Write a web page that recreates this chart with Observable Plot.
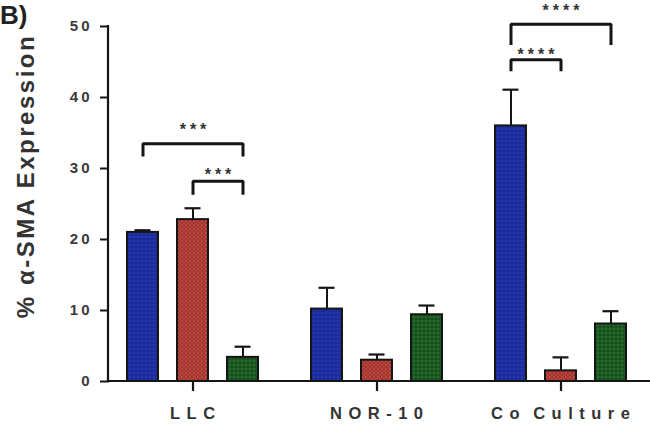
<!DOCTYPE html>
<html>
<head>
<meta charset="utf-8">
<script src="https://cdn.jsdelivr.net/npm/d3@7"></script>
<script src="https://cdn.jsdelivr.net/npm/@observablehq/plot@0.6"></script>
<style>
  html, body { margin: 0; padding: 0; background: #fff; }
  #chart svg { display: block; }
</style>
</head>
<body>
<svg width="0" height="0" style="position:absolute">
  <defs>
    <pattern id="pA" width="4" height="4" patternUnits="userSpaceOnUse">
      <rect width="4" height="4" fill="#1e2fa2"/>
      <rect width="2" height="2" fill="#2636ad"/>
      <rect x="2" y="2" width="2" height="2" fill="#1a2892"/>
    </pattern>
    <pattern id="pB" width="4" height="4" patternUnits="userSpaceOnUse">
      <rect width="4" height="4" fill="#a3322d"/>
      <rect width="2" height="2" fill="#b94a44"/>
      <rect x="2" y="2" width="2" height="2" fill="#b5443e"/>
    </pattern>
    <pattern id="pC" width="4" height="4" patternUnits="userSpaceOnUse">
      <rect width="4" height="4" fill="#1c5a23"/>
      <rect width="2" height="2" fill="#26692d"/>
      <rect x="2" y="2" width="2" height="2" fill="#174d1d"/>
    </pattern>
  </defs>
</svg>
<div id="chart"></div>
<script>
// ---- data ----
const groups = ["LLC", "NOR-10", "Co Culture"];
const series = ["Series A", "Series B", "Series C"];
const meanA = [21.0, 10.2, 36.0];
const meanB = [22.8, 3.0, 1.5];
const meanC = [3.4, 9.4, 8.1];
const errA = [0.3, 3.0, 5.1];
const errB = [1.6, 0.8, 1.9];
const errC = [1.5, 1.3, 1.8];
const yTicks = [0, 10, 20, 30, 40, 50];

// significance brackets
const bracketGroup = ["LLC", "LLC", "Co Culture", "Co Culture"];
const bracketFrom = [0, 1, 0, 0];
const bracketTo = [2, 2, 2, 1];
const bracketTop = [33.5, 28.2, 50.3, 45.3];
const bracketLeg = [31.9, 26.5, 47.6, 43.9];
const bracketLabel = ["***", "***", "****", "****"];
const bracketLabelY = [36.0, 29.7, 52.7, 46.6];

// ---- tables ----
const means = [meanA, meanB, meanC];
const errs = [errA, errB, errC];
const data = groups.flatMap((g, i) => series.map((s, j) => ({
  group: g, series: s, mean: means[j][i], upper: means[j][i] + errs[j][i]
})));

const bracketRows = bracketGroup.flatMap((g, k) => [
  {id: k, group: g, series: series[bracketFrom[k]], y: bracketLeg[k]},
  {id: k, group: g, series: series[bracketFrom[k]], y: bracketTop[k]},
  {id: k, group: g, series: series[bracketTo[k]], y: bracketTop[k]},
  {id: k, group: g, series: series[bracketTo[k]], y: bracketLeg[k]}
]);
const starRows = bracketGroup.map((g, k) => ({
  group: g,
  span: bracketTo[k] - bracketFrom[k],
  series: series[bracketTo[k] - bracketFrom[k] === 2 ? bracketFrom[k] + 1 : bracketFrom[k]],
  y: bracketLabelY[k],
  label: bracketLabel[k]
}));
// category tick marks hang just below the baseline, at each group's centre
const groupTicks = groups.map(g => ({group: g, series: series[1]}));

const ink = "#151515";

const chart = Plot.plot({
  width: 650,
  height: 424,
  marginLeft: 108,
  marginRight: 6,
  marginTop: 26,
  marginBottom: 43,
  clip: false,
  style: {fontFamily: "'Liberation Sans', Arial, sans-serif", background: "#fff", overflow: "visible"},
  fx: {domain: groups, paddingInner: 0.0988, paddingOuter: 0, label: null},
  x: {domain: series, paddingInner: 0.383, paddingOuter: 0.348, axis: null},
  y: {domain: [0, 50]},
  color: {type: "ordinal", domain: series, range: ["url(#pA)", "url(#pB)", "url(#pC)"]},
  marks: [
    Plot.ruleX(data, {fx: "group", x: "series", y1: "mean", y2: "upper", stroke: ink, strokeWidth: 2}),
    Plot.tickY(data, {fx: "group", x: "series", y: "upper", insetLeft: 7.5, insetRight: 7.5, stroke: ink, strokeWidth: 2.2}),
    Plot.barY(data, {fx: "group", x: "series", y: "mean", fill: "series", stroke: ink, strokeWidth: 2}),
    Plot.line(bracketRows, {fx: "group", x: "series", y: "y", z: "id", stroke: ink, strokeWidth: 3, strokeLinejoin: "miter", strokeLinecap: "square"}),
    Plot.text(starRows.filter(d => d.span === 2), {fx: "group", x: "series", y: "y", text: "label", fontSize: 16, fontWeight: "bold", fill: "#333", dy: 4, dx: 2}),
    Plot.text(starRows.filter(d => d.span === 1), {fx: "group", x: "series", y: "y", text: "label", fontSize: 16, fontWeight: "bold", fill: "#333", dy: 4, dx: 27}),
    Plot.axisY({ticks: yTicks, tickSize: 9, tickPadding: 8, strokeWidth: 2, stroke: ink, fill: "#3a3a3a", fontSize: 15, fontWeight: "bold", label: null}),
    Plot.axisFx({anchor: "bottom", tickSize: 0, tickPadding: 26, fill: "#333", fontSize: 16.5, fontWeight: "bold", label: null}),
    Plot.ruleX(groupTicks, {fx: "group", x: "series", y1: 0, y2: -1.4, stroke: ink, strokeWidth: 2.2, clip: false})
  ]
});

document.getElementById("chart").appendChild(chart);

// axis lines, from the library's y scale
const yS = chart.scale("y");
const svg = d3.select(chart);
const y0 = yS.apply(0), yTop = yS.apply(50);
svg.append("line").attr("x1", 108).attr("x2", 650).attr("y1", y0).attr("y2", y0)
  .attr("stroke", ink).attr("stroke-width", 2.2);
svg.append("line").attr("x1", 108).attr("x2", 108).attr("y1", yTop - 1).attr("y2", y0 + 1)
  .attr("stroke", ink).attr("stroke-width", 2.2);

// letter spacing of tick labels / stars
svg.selectAll("text").each(function() {
  const t = this.textContent;
  if (groups.includes(t)) {
    d3.select(this).style("letter-spacing", "6.5px").attr("dx", 3.25);
    if (t.includes(" ")) d3.select(this).style("word-spacing", "-4px");
  } else if (/^\d+$/.test(t)) {
    d3.select(this).style("letter-spacing", "3px");
  } else if (/^\*+$/.test(t)) {
    d3.select(this).style("letter-spacing", "4px");
  }
});

// y-axis title and panel tag
svg.append("text")
  .attr("transform", "translate(34,176) rotate(-90)")
  .attr("text-anchor", "middle")
  .attr("font-size", 24).attr("font-weight", "bold")
  .attr("letter-spacing", "2.5px")
  .attr("fill", "#333")
  .text("% α-SMA Expression");
svg.append("text")
  .attr("x", 0).attr("y", 24)
  .attr("text-anchor", "start")
  .attr("font-size", 26).attr("font-weight", "bold")
  .attr("fill", "#222")
  .text("B)");
</script>
</body>
</html>
